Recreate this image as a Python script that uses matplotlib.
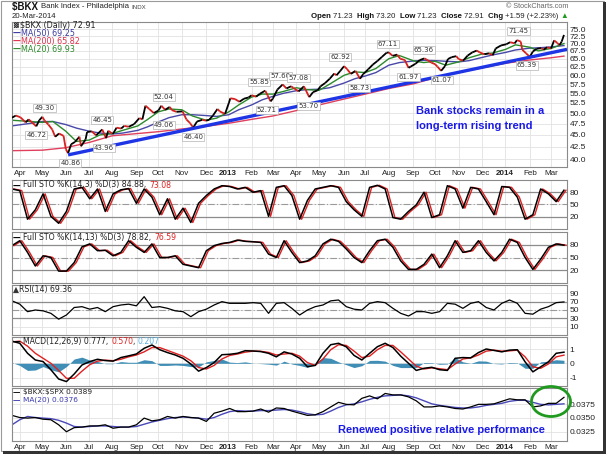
import matplotlib

matplotlib.use("Agg")
import matplotlib.pyplot as plt
import matplotlib.dates as mdates
import matplotlib.transforms as mtransforms
from matplotlib.collections import LineCollection
from matplotlib.patches import Ellipse, Rectangle
from matplotlib.ticker import FixedLocator, FormatStrFormatter, NullLocator, NullFormatter
import numpy as np
import pandas as pd

plt.rcParams["font.family"] = ["Liberation Sans", "DejaVu Sans"]

W, H = 609, 455

# ---- price panel data ----
price_dates = [
    "2012-03-22", "2012-03-27", "2012-04-02", "2012-04-09", "2012-04-13", "2012-04-23",
    "2012-04-27", "2012-05-01", "2012-05-04", "2012-05-09", "2012-05-14", "2012-05-18",
    "2012-05-23", "2012-05-29", "2012-06-01", "2012-06-04", "2012-06-08", "2012-06-13",
    "2012-06-19", "2012-06-21", "2012-06-27", "2012-06-29", "2012-07-05", "2012-07-11",
    "2012-07-19", "2012-07-24", "2012-07-27", "2012-08-02", "2012-08-07", "2012-08-13",
    "2012-08-17", "2012-08-23", "2012-08-30", "2012-09-06", "2012-09-10", "2012-09-14",
    "2012-09-19", "2012-09-25", "2012-10-01", "2012-10-05", "2012-10-10", "2012-10-16",
    "2012-10-19", "2012-10-25", "2012-11-02", "2012-11-07", "2012-11-12", "2012-11-16",
    "2012-11-21", "2012-11-28", "2012-12-03", "2012-12-07", "2012-12-12", "2012-12-18",
    "2012-12-21", "2012-12-28", "2013-01-02", "2013-01-04", "2013-01-10", "2013-01-16",
    "2013-01-22", "2013-01-28", "2013-02-01", "2013-02-07", "2013-02-12", "2013-02-19",
    "2013-02-22", "2013-02-26", "2013-03-01", "2013-03-07", "2013-03-14", "2013-03-19",
    "2013-03-25", "2013-03-28", "2013-04-04", "2013-04-11", "2013-04-18", "2013-04-23",
    "2013-04-29", "2013-05-03", "2013-05-09", "2013-05-15", "2013-05-21", "2013-05-24",
    "2013-05-29", "2013-06-03", "2013-06-07", "2013-06-12", "2013-06-18", "2013-06-24",
    "2013-06-28", "2013-07-05", "2013-07-11", "2013-07-17", "2013-07-23", "2013-07-29",
    "2013-08-01", "2013-08-06", "2013-08-12", "2013-08-16", "2013-08-22", "2013-08-27",
    "2013-08-30", "2013-09-05", "2013-09-11", "2013-09-17", "2013-09-20", "2013-09-26",
    "2013-10-01", "2013-10-04", "2013-10-09", "2013-10-14", "2013-10-18", "2013-10-23",
    "2013-10-29", "2013-11-01", "2013-11-07", "2013-11-13", "2013-11-19", "2013-11-25",
    "2013-11-29", "2013-12-05", "2013-12-11", "2013-12-16", "2013-12-20", "2013-12-27",
    "2014-01-03", "2014-01-08", "2014-01-14", "2014-01-17", "2014-01-22", "2014-01-24",
    "2014-01-29", "2014-02-03", "2014-02-07", "2014-02-12", "2014-02-18", "2014-02-21",
    "2014-02-26", "2014-03-03", "2014-03-07", "2014-03-11", "2014-03-14", "2014-03-17",
    "2014-03-20",
]
price_close = [
    48.9, 49.4, 49.0, 47.8, 48.5, 46.9,
    48.3, 49.1, 48.2, 47.3, 46.2, 44.6,
    45.3, 44.8, 42.0, 41.2, 43.0, 43.5,
    44.6, 42.6, 44.0, 45.6, 45.8, 44.9,
    46.2, 44.3, 45.9, 45.2, 46.6, 46.4,
    47.0, 46.8, 47.4, 48.8, 48.5, 51.8,
    51.0, 50.0, 50.6, 51.8, 50.8, 51.5,
    50.7, 50.3, 50.4, 48.5, 47.6, 46.6,
    48.0, 48.4, 48.2, 48.4, 49.4, 51.0,
    50.4, 49.8, 52.5, 53.7, 53.5, 52.8,
    53.6, 53.9, 54.5, 54.1, 54.9, 55.7,
    54.5, 52.9, 53.6, 56.0, 57.4, 56.3,
    56.9, 56.5, 55.5, 56.9, 54.0, 55.3,
    55.8, 56.9, 57.8, 59.0, 60.5, 60.0,
    61.3, 62.7, 61.8, 60.4, 61.3, 59.0,
    60.3, 61.8, 63.2, 64.3, 65.6, 66.9,
    67.0, 65.9, 66.3, 65.0, 64.6, 62.2,
    62.6, 63.4, 64.6, 65.1, 64.7, 63.8,
    63.3, 62.6, 61.3, 62.7, 64.9, 65.5,
    65.8, 64.9, 64.4, 66.0, 67.0, 67.6,
    67.0, 66.4, 66.7, 66.1, 68.3, 69.3,
    69.7, 70.4, 70.0, 71.1, 70.6, 67.9,
    66.7, 65.6, 67.3, 68.2, 68.4, 67.9,
    68.7, 68.3, 71.0, 70.2, 69.4, 70.6,
    72.9,
]

ma_dates = [
    "2012-03-22", "2012-04-16", "2012-05-01", "2012-05-15", "2012-06-01", "2012-06-15",
    "2012-07-02", "2012-07-16", "2012-08-01", "2012-08-15", "2012-09-04", "2012-09-17",
    "2012-10-01", "2012-10-15", "2012-11-01", "2012-11-15", "2012-12-03", "2012-12-17",
    "2013-01-02", "2013-01-15", "2013-02-01", "2013-02-15", "2013-03-01", "2013-03-15",
    "2013-04-01", "2013-04-15", "2013-05-01", "2013-05-15", "2013-06-03", "2013-06-17",
    "2013-07-01", "2013-07-15", "2013-08-01", "2013-08-15", "2013-09-03", "2013-09-16",
    "2013-10-01", "2013-10-15", "2013-11-01", "2013-11-15", "2013-12-02", "2013-12-16",
    "2014-01-02", "2014-01-15", "2014-02-03", "2014-02-14", "2014-03-03", "2014-03-20",
]
ma50 = [
    47.0, 47.6, 48.0, 48.0, 47.3, 46.5, 45.8, 45.4, 45.2, 45.4,
    46.0, 46.8, 47.9, 48.9, 49.6, 49.6, 49.4, 49.2, 49.6, 50.8,
    52.0, 53.3, 54.2, 55.0, 55.7, 56.0, 56.1, 56.5, 57.8, 59.0,
    59.8, 60.8, 63.0, 63.8, 64.3, 64.5, 64.4, 64.2, 64.0, 64.4,
    65.4, 66.2, 67.0, 67.8, 68.4, 68.5, 68.8, 69.25,
]
ma20 = [
    48.3, 48.0, 47.8, 48.0, 45.8, 43.6, 43.9, 45.0, 45.3, 46.0,
    47.0, 48.5, 50.3, 51.0, 50.8, 49.3, 48.3, 48.8, 50.3, 52.0,
    54.0, 54.8, 54.8, 55.5, 56.5, 56.0, 55.8, 57.5, 60.0, 61.0,
    60.8, 62.0, 65.0, 66.0, 64.3, 63.8, 64.2, 63.0, 64.0, 65.3,
    66.5, 66.8, 68.0, 69.5, 68.7, 67.5, 68.3, 69.93,
]
ma200_dates = [
    "2012-03-22", "2012-05-01", "2012-06-01", "2012-07-02", "2012-08-01", "2012-09-04",
    "2012-10-01", "2012-11-01", "2012-12-03", "2013-01-02", "2013-02-01", "2013-03-01",
    "2013-04-01", "2013-05-01", "2013-06-03", "2013-07-01", "2013-08-01", "2013-09-03",
    "2013-10-01", "2013-11-01", "2013-12-02", "2014-01-02", "2014-02-03", "2014-03-03",
    "2014-03-20",
]
ma200 = [
    41.7, 41.8, 42.3, 43.4, 44.8, 45.3, 45.7, 46.3, 46.9, 47.6,
    48.5, 49.3, 50.6, 52.0, 53.5, 54.8, 56.3, 57.6, 59.3, 60.8,
    62.2, 63.6, 64.6, 65.3, 65.82,
]
trend_dates = ["2012-06-04", "2014-03-24"]
trend_values = [40.86, 68.0]

# labelled highs / lows: date, value, side
price_notes = [
    ("2012-05-04", 49.30, "up"), ("2012-04-23", 46.72, "down"), ("2012-06-07", 40.86, "down"),
    ("2012-07-19", 46.45, "up"), ("2012-07-21", 43.96, "down"), ("2012-10-08", 52.04, "up"),
    ("2012-10-08", 49.06, "down"), ("2012-11-16", 46.40, "down"), ("2013-02-11", 55.85, "up"),
    ("2013-02-21", 52.71, "down"), ("2013-03-11", 57.60, "up"), ("2013-04-04", 57.08, "up"),
    ("2013-04-17", 53.70, "down"), ("2013-05-29", 62.92, "up"), ("2013-06-23", 58.73, "down"),
    ("2013-07-31", 67.11, "up"), ("2013-09-16", 65.36, "up"), ("2013-08-27", 61.97, "down"),
    ("2013-10-10", 61.07, "down"), ("2014-01-19", 71.45, "up"), ("2014-01-30", 65.39, "down"),
]

# ---- indicator panels, sampled about every 10 days ----
ind_dates = pd.date_range("2012-03-22", "2014-03-20", periods=72)
sto_fast = [
    88, 84, 14, 37, 76, 21, 4, 33, 88, 92, 64, 88, 33, 76, 86, 89, 53, 88, 68, 25,
    64, 14, 41, 6, 53, 72, 88, 96, 94, 88, 92, 80, 84, 21, 92, 96, 72, 14, 60, 88,
    92, 96, 92, 57, 37, 21, 92, 97, 88, 18, 14, 33, 49, 80, 18, 25, 96, 88, 41, 92,
    88, 57, 25, 94, 92, 68, 14, 25, 88, 76, 57, 85,
]
sto_slow = [
    78, 89.5, 62, 30, 54, 50, 18, 18, 38, 75, 82, 66, 67, 54, 62, 89.5, 74, 62, 82, 50,
    50, 54, 34, 30, 26, 66, 78, 83, 85.5, 91, 88, 87, 85.5, 58, 50, 89.5, 62, 38, 42, 54,
    82, 93, 88, 70, 50, 38, 66, 89.5, 93, 74, 42, 22, 22, 34, 58, 26, 54, 89.5, 62, 66,
    89.5, 62, 42, 62, 93, 85.5, 50, 22, 46, 74, 82, 79,
]
rsi = [
    72, 64, 46, 50, 48, 42, 28, 38, 56, 58, 52, 56, 46, 58, 62, 64, 60, 82, 56, 58,
    54, 48, 46, 34, 46, 52, 62, 70, 66, 66, 66, 67.6, 66, 42, 66, 67.6, 54, 38, 50, 58,
    62, 72, 74, 58, 52, 50, 66, 70, 67.6, 54, 42, 35.6, 46, 46, 42, 46, 66, 64, 54, 66,
    70, 56, 50, 66, 74, 66, 42, 40, 52, 58, 67.6, 69.4,
]
macd = [
    1.55, 1.40, 0.70, 0.23, 0.12, -0.45, -1.10, -1.28, -0.75, -0.12,
    0.12, 0.28, 0.19, 0.15, 0.40, 0.52, 0.65, 1.05, 1.28, 0.95,
    0.75, 0.58, 0.35, -0.05, -0.55, -0.30, 0.05, 0.60, 0.63, 0.70,
    0.88, 0.86, 0.82, 0.70, 0.45, 0.80, 0.65, 0.35, -0.24, -0.15,
    0.70, 1.30, 1.40, 1.15, 0.55, 0.23, 0.70, 1.16, 1.40, 1.10,
    0.50, 0.0, -0.50, -0.35, -0.28, -0.45, -0.50, 0.35, 0.40, 0.38,
    0.75, 1.00, 0.90, 0.80, 0.92, 0.95, 0.10, -0.60, -0.25, 0.10,
    0.70, 0.777,
]
macd_signal = [
    1.50, 1.55, 1.20, 0.70, 0.35, 0.0, -0.50, -1.05, -1.05, -0.55,
    -0.10, 0.15, 0.22, 0.18, 0.28, 0.45, 0.58, 0.80, 1.10, 1.10,
    0.90, 0.70, 0.50, 0.18, -0.30, -0.40, -0.15, 0.30, 0.55, 0.65,
    0.78, 0.85, 0.84, 0.76, 0.58, 0.65, 0.70, 0.50, 0.05, -0.15,
    0.30, 0.95, 1.30, 1.25, 0.85, 0.40, 0.50, 0.95, 1.25, 1.25,
    0.80, 0.30, -0.20, -0.40, -0.32, -0.38, -0.45, -0.05, 0.30, 0.38,
    0.58, 0.85, 0.92, 0.85, 0.87, 0.92, 0.45, -0.25, -0.35, -0.05,
    0.45, 0.570,
]
ratio = [
    0.0354, 0.0350, 0.0349, 0.0350, 0.0347, 0.0346, 0.0337, 0.0325, 0.0332, 0.0333,
    0.0335, 0.0335, 0.0337, 0.0331, 0.0333, 0.0333, 0.0337, 0.0349, 0.0344, 0.0346,
    0.0352, 0.0349, 0.0352, 0.0350, 0.0349, 0.0343, 0.0358, 0.0362, 0.0367, 0.0361,
    0.0361, 0.0362, 0.0366, 0.0360, 0.0368, 0.0367, 0.0362, 0.0358, 0.0354, 0.0355,
    0.0361, 0.0370, 0.0379, 0.0375, 0.0374, 0.0387, 0.0392, 0.0386, 0.0397, 0.0394,
    0.0394, 0.0390, 0.0382, 0.0370, 0.0370, 0.0372, 0.0370, 0.0367, 0.0366, 0.0370,
    0.0375, 0.0375, 0.0376, 0.0381, 0.0386, 0.0384, 0.0384, 0.0370, 0.0372, 0.0377,
    0.0377, 0.0389,
]
ratio_ma = [
    0.0337, 0.0346, 0.0352, 0.0350, 0.0349, 0.0348, 0.0345, 0.0340, 0.0334, 0.0333,
    0.0334, 0.0335, 0.0335, 0.0334, 0.0333, 0.0333, 0.0334, 0.0338, 0.0342, 0.0345,
    0.0348, 0.0350, 0.0351, 0.0350, 0.0349, 0.0347, 0.0350, 0.0356, 0.0361, 0.0363,
    0.0362, 0.0362, 0.0363, 0.0363, 0.0364, 0.0365, 0.0364, 0.0361, 0.0357, 0.0355,
    0.0356, 0.0362, 0.0369, 0.0374, 0.0376, 0.0380, 0.0385, 0.0389, 0.0392, 0.0393,
    0.0394, 0.0392, 0.0388, 0.0382, 0.0376, 0.0373, 0.0371, 0.0369, 0.0368, 0.0368,
    0.0370, 0.0373, 0.0375, 0.0377, 0.0381, 0.0383, 0.0383, 0.0379, 0.0375, 0.0374,
    0.0375, 0.0376,
]

price_ticks = [40.0, 42.5, 45.0, 47.5, 50.0, 52.5, 55.0, 57.5, 60.0, 62.5,
               65.0, 67.5, 70.0, 72.5, 75.0]
month_ticks = pd.date_range("2012-04-01", "2014-03-31", freq="BMS")
month_labels = [d.strftime("%Y") if d.month == 1 else d.strftime("%b") for d in month_ticks]

x_left, x_right = pd.Timestamp("2012-03-22"), pd.Timestamp("2014-03-24")

fig = plt.figure(figsize=(W / 100, H / 100), dpi=100)
fig.patch.set_facecolor("white")
renderer = fig.canvas.get_renderer()


def add_panel(y0, y1):
    return fig.add_axes([12 / W, 1 - y1 / H, 555 / W, (y1 - y0) / H])


def style(ax, ylim, yticks, fmt, log=False, xlabels=False):
    if log:
        ax.set_yscale("log")
    ax.set_xlim(x_left, x_right)
    ax.set_ylim(*ylim)
    ax.yaxis.set_major_locator(FixedLocator(yticks))
    ax.yaxis.set_minor_locator(NullLocator())
    ax.yaxis.set_major_formatter(FormatStrFormatter(fmt))
    ax.yaxis.set_minor_formatter(NullFormatter())
    ax.yaxis.tick_right()
    ax.tick_params(axis="y", length=0, pad=2, labelsize=6, colors="#222222")
    ax.set_xticks(month_ticks)
    if xlabels:
        ax.set_xticklabels(month_labels)
        for lab in ax.get_xticklabels():
            if lab.get_text().isdigit():
                lab.set_fontweight("bold")
                lab.set_fontsize(6.6)
    else:
        ax.set_xticklabels([])
    ax.tick_params(axis="x", length=0, pad=2.5, labelsize=5.8, colors="#222222")
    ax.grid(True, color="#e2e2e2", lw=0.6)
    ax.set_axisbelow(True)
    for s in ax.spines.values():
        s.set_color("#8a8a8a")
        s.set_linewidth(0.8)


def put_pieces(x, y, parts, size=5.6, family="DejaVu Sans"):
    # draws coloured pieces of one label line side by side (pixel coordinates)
    for text, color, weight in parts:
        t = fig.text(x / W, 1 - y / H, text, fontsize=size, color=color,
                     fontweight=weight, family=[family, "DejaVu Sans"],
                     ha="left", va="center")
        x += t.get_window_extent(renderer).width
    return x


def level_lines(ax, solid, dashed):
    for v in solid:
        ax.axhline(v, color="#8c8c8c", lw=0.9, zorder=1)
    for v in dashed:
        ax.axhline(v, color="#9a9a9a", lw=0.8, ls=(0, (6, 2, 1, 2)), zorder=1)


# ---- price panel ----
ax = add_panel(22, 167)
pdates = pd.to_datetime(price_dates)
ax.plot(pd.to_datetime(ma200_dates), ma200, color="#e0405c", lw=1.0)
ax.plot(pd.to_datetime(ma_dates), ma50, color="#4848a8", lw=1.0)
ax.plot(pd.to_datetime(ma_dates), ma20, color="#2b8a2b", lw=1.0)
xs = mdates.date2num(pdates)
pts = np.column_stack([xs, price_close])
segs = np.stack([pts[:-1], pts[1:]], axis=1)
seg_colors = ["#d8201e" if b < a else "black" for a, b in zip(price_close[:-1], price_close[1:])]
ax.add_collection(LineCollection(segs, colors=seg_colors, linewidths=1.3, zorder=3))
ax.plot(pd.to_datetime(trend_dates), trend_values, color="#1e35e6", lw=2.4, zorder=4,
        solid_capstyle="butt")
style(ax, (38.54, 77.6), price_ticks, "%.1f", log=True, xlabels=True)
for d, v, side in price_notes:
    ax.annotate(f"{v:.2f}", xy=(mdates.date2num(pd.Timestamp(d)), v),
                xytext=(0, 8 if side == "up" else -8), textcoords="offset pixels",
                ha="center", va="center", fontsize=5.0, color="#333333",
                family=["DejaVu Sans"], zorder=6,
                bbox=dict(boxstyle="square,pad=0.15", fc="white", ec="#b4b4b4", lw=0.5))

put_pieces(20, 25.5, [("$BKX (Daily) 72.91", "#222222", "normal")], size=5.8)
fig.text(13 / W, 1 - 25.5 / H, "\u2593", fontsize=4.5, color="#333333", va="center",
         family=["DejaVu Sans"])
put_pieces(13, 33.5, [("\u2014", "#3a3aa0", "bold"), ("MA(50) 69.25", "#3a3aa0", "normal")], size=5.8)
put_pieces(13, 41.5, [("\u2014", "#e0304c", "bold"), ("MA(200) 65.82", "#e0304c", "normal")], size=5.8)
put_pieces(13, 49.5, [("\u2014", "#2b8a2b", "bold"), ("MA(20) 69.93", "#2b8a2b", "normal")], size=5.8)

fig.text(416 / W, 1 - 111.5 / H, "Bank stocks remain in a", fontsize=8, fontweight="bold",
         color="#1a1ae8", va="center", ha="left")
fig.text(416 / W, 1 - 126 / H, "long-term rising trend", fontsize=8, fontweight="bold",
         color="#1a1ae8", va="center", ha="left")

# ---- full stochastics (14,3) ----
shift = lambda a: mtransforms.offset_copy(a.transData, fig=fig, x=2.0, y=0, units="dots")
ax1 = add_panel(180, 229)
level_lines(ax1, [80, 20], [50])
ax1.plot(ind_dates, sto_fast, color="#e02020", lw=1.0, transform=shift(ax1))
ax1.plot(ind_dates, sto_fast, color="black", lw=1.1)
style(ax1, (-10, 110), [20, 50, 80], "%d")
put_pieces(13, 185, [("\u2014 ", "black", "bold"), ("Full STO %K(14,3) %D(3) 84.88, ", "#222222", "normal"),
                     ("73.08", "#e02020", "normal")], size=5.6)

# ---- full stochastics (14,13) ----
ax2 = add_panel(232, 283)
level_lines(ax2, [80, 20], [50])
ax2.plot(ind_dates, sto_slow, color="#e02020", lw=1.0, transform=shift(ax2))
ax2.plot(ind_dates, sto_slow, color="black", lw=1.1)
style(ax2, (-10, 110), [20, 50, 80], "%d")
put_pieces(13, 237, [("\u2014 ", "black", "bold"), ("Full STO %K(14,13) %D(3) 78.82, ", "#222222", "normal"),
                     ("76.59", "#e02020", "normal")], size=5.6)

# ---- RSI ----
ax3 = add_panel(285, 335)
level_lines(ax3, [70, 30], [50])
ax3.plot(ind_dates, rsi, color="black", lw=0.9)
style(ax3, (-10, 110), [10, 30, 50, 70, 90], "%d")
put_pieces(13, 289.5, [("\u25b2", "#333333", "normal"), ("RSI(14) 69.36", "#222222", "normal")], size=5.6)

# ---- MACD ----
ax4 = add_panel(337, 386)
hist = np.array(macd) - np.array(macd_signal)
ax4.fill_between(ind_dates, hist, 0, color="#3588b2", lw=0, alpha=0.95)
ax4.plot(ind_dates, macd_signal, color="#e02020", lw=1.0)
ax4.plot(ind_dates, macd, color="black", lw=1.1)
style(ax4, (-1.59, 1.84), [-1, 0, 1], "%d")
put_pieces(13, 341.5, [("\u2014 ", "black", "bold"), ("MACD(12,26,9) 0.777, ", "#222222", "normal"),
                       ("0.570", "#e02020", "normal"), (", ", "#222222", "normal"),
                       ("0.207", "#5ab0de", "normal")], size=5.6)

# ---- relative to S&P 500 ----
ax5 = add_panel(388, 441)
ax5.plot(ind_dates, ratio_ma, color="#4848b8", lw=1.0)
ax5.plot(ind_dates, ratio, color="black", lw=0.9)
style(ax5, (0.03096, 0.04085), [0.0325, 0.0350, 0.0375], "%.4f", log=True, xlabels=True)
put_pieces(13, 392, [("\u2014 ", "black", "bold"), (r"\$BKX:\$SPX 0.0389", "#222222", "normal")], size=5.3)
put_pieces(13, 400, [("\u2014 ", "#3a3ab0", "bold"), ("MA(20) 0.0376", "#3a3ab0", "normal")], size=5.3)
fig.text(338 / W, 1 - 430 / H, "Renewed positive relative performance", fontsize=8,
         fontweight="bold", color="#1a1ae8", va="center", ha="left")
fig.add_artist(Ellipse((551 / W, 1 - 401.5 / H), 39 / W, 30 / H, transform=fig.transFigure,
                       fill=False, ec="#1f9a1f", lw=2.0, zorder=10))

# ---- header ----
x = put_pieces(12, 7, [("$BKX ", "#111111", "bold")], size=7, family="Liberation Sans")
x = put_pieces(x, 7, [("Bank Index - Philadelphia ", "#222222", "normal")], size=5.6, family="Liberation Sans")
put_pieces(x, 7.5, [("INDX", "#444444", "normal")], size=4.4, family="Liberation Sans")
put_pieces(12, 16, [("20-Mar-2014", "#222222", "normal")], size=5.6, family="Liberation Sans")
fig.text(568 / W, 1 - 7 / H, "\u00a9 StockCharts.com", fontsize=5.2, color="#666666",
         ha="right", va="center")
put_pieces(311, 16, [
    ("Open ", "#111111", "bold"), ("71.23  ", "#222222", "normal"),
    ("High ", "#111111", "bold"), ("73.20  ", "#222222", "normal"),
    ("Low ", "#111111", "bold"), ("71.23  ", "#222222", "normal"),
    ("Close ", "#111111", "bold"), ("72.91  ", "#222222", "normal"),
    ("Chg ", "#111111", "bold"), ("+1.59 (+2.23%) ", "#222222", "normal"),
    ("\u25b2", "#1f9a1f", "normal"),
], size=5.6, family="Liberation Sans")

# ---- frame with shadow ----
fig.add_artist(Rectangle((0.5 / W, 1 - 451 / H), 603 / W, 450.5 / H, transform=fig.transFigure,
                         fill=False, ec="#9a9a9a", lw=0.8))
fig.add_artist(Rectangle((603 / W, 1 - 453 / H), 3 / W, 451 / H, transform=fig.transFigure,
                         fc="#333333", ec="none"))
fig.add_artist(Rectangle((3 / W, 1 - 454 / H), 603 / W, 3 / H, transform=fig.transFigure,
                         fc="#333333", ec="none"))

fig.savefig("out.png", dpi=100, facecolor="white")
plt.close(fig)
